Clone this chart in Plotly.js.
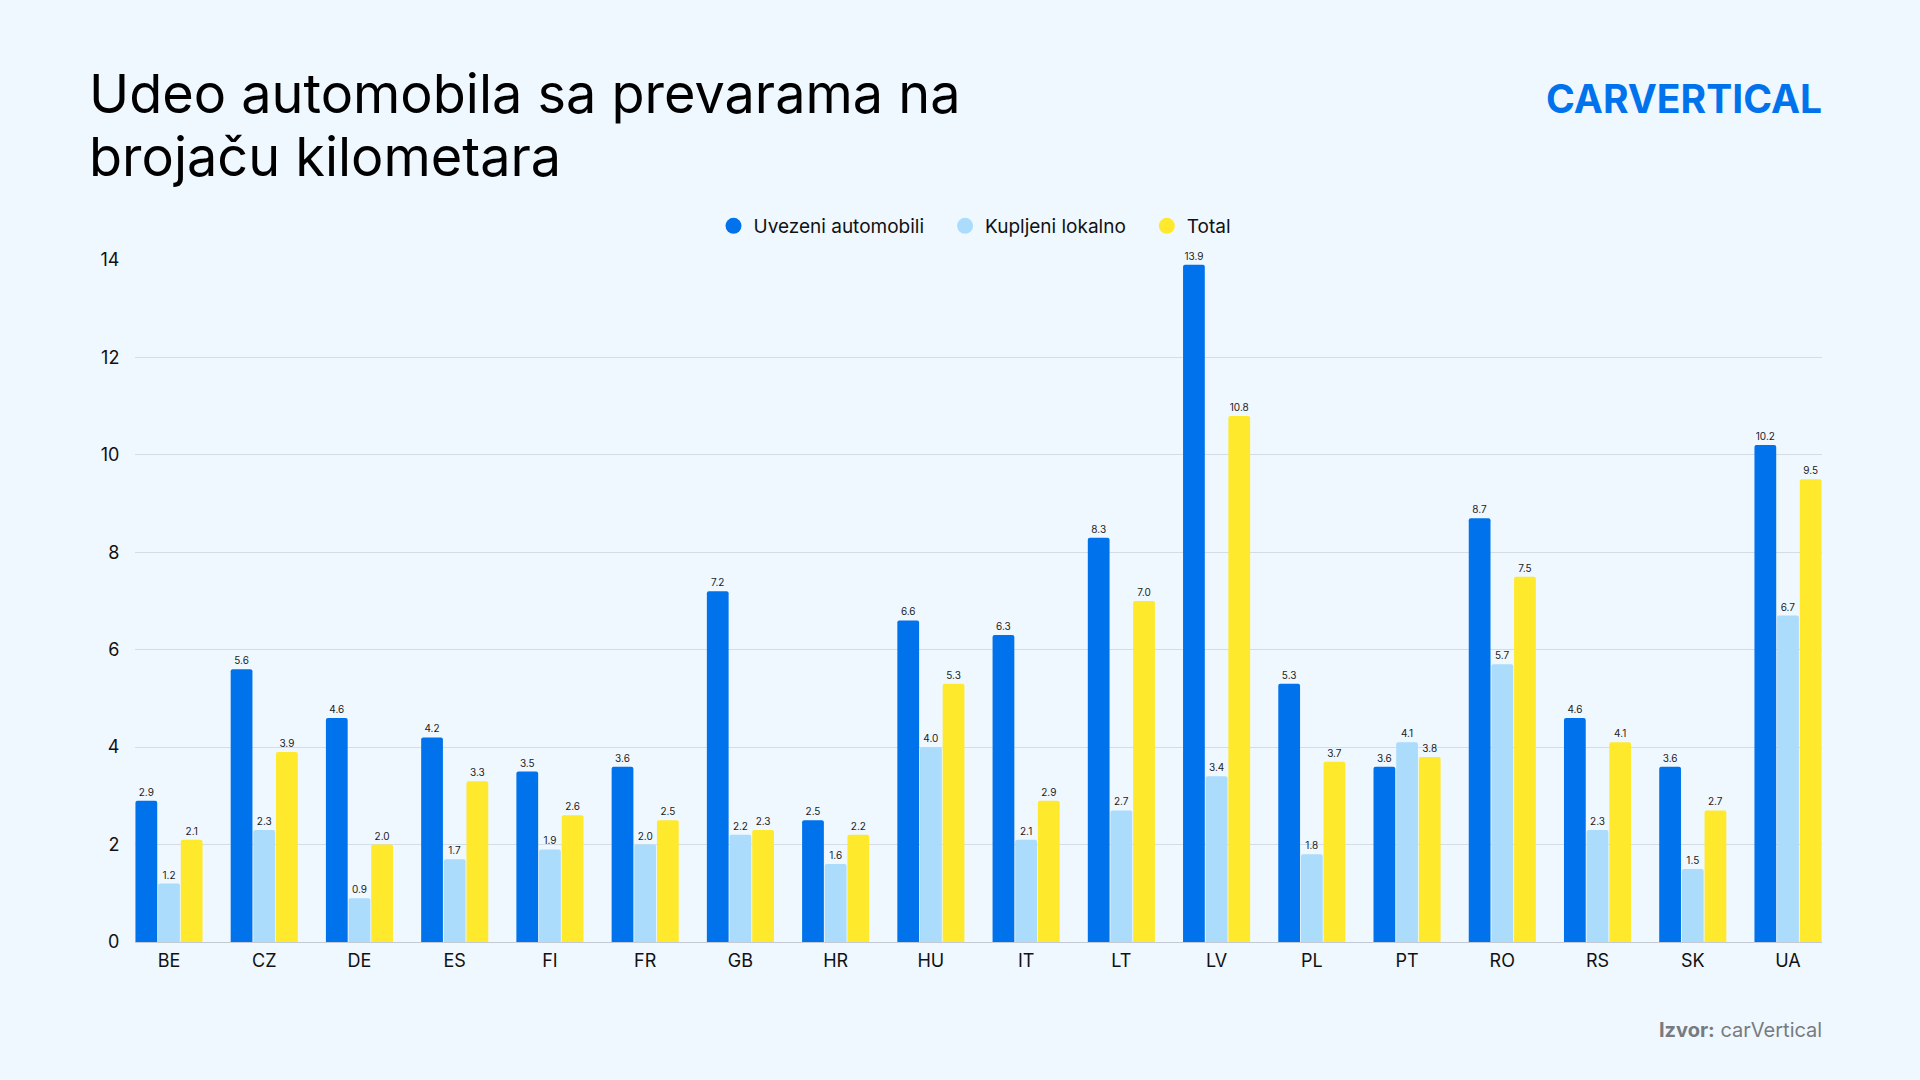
<!DOCTYPE html>
<html>
<head>
<meta charset="utf-8">
<script src="https://cdn.plot.ly/plotly-3.0.1.min.js"></script>
<style>
  html, body { margin: 0; padding: 0; background: #eff7ff; }
  #chart { width: 1920px; height: 1080px; }
</style>
</head>
<body>
<div id="chart"></div>
<script>
const countries = ['BE', 'CZ', 'DE', 'ES', 'FI', 'FR', 'GB', 'HR', 'HU', 'IT', 'LT', 'LV', 'PL', 'PT', 'RO', 'RS', 'SK', 'UA']
const imported = [2.9, 5.6, 4.6, 4.2, 3.5, 3.6, 7.2, 2.5, 6.6, 6.3, 8.3, 13.9, 5.3, 3.6, 8.7, 4.6, 3.6, 10.2]
const local = [1.2, 2.3, 0.9, 1.7, 1.9, 2.0, 2.2, 1.6, 4.0, 2.1, 2.7, 3.4, 1.8, 4.1, 5.7, 2.3, 1.5, 6.7]
const total = [2.1, 3.9, 2.0, 3.3, 2.6, 2.5, 2.3, 2.2, 5.3, 2.9, 7.0, 10.8, 3.7, 3.8, 7.5, 4.1, 2.7, 9.5]
const seriesNames = ['Uvezeni automobili', 'Kupljeni lokalno', 'Total']
const yTicks = [0, 2, 4, 6, 8, 10, 12, 14]

const colors = ['#0073ec', '#abdcfc', '#ffe92c']
const bg = '#eff7ff'
const font = 'Inter, "Open Sans", sans-serif'

// plot area in pixels: left 135, right 1822, top 260, bottom 942
const L = 135, R = 1822, T = 260, B = 942
const px = X => (X - L) / (R - L)
const py = Y => (B - Y) / (B - T)

function barTrace(values, i) {
    return {
        type: 'bar',
        x: countries,
        y: values,
        name: seriesNames[i],
        marker: {color: colors[i]},
        texttemplate: '%{y:.1f}',
        textposition: 'outside',
        textfont: {family: font, size: 10, color: '#1b1b1b'},
        cliponaxis: false,
        showlegend: false,
        hoverinfo: 'x+y+name'
    }
}

// circle markers for the legend only (extra spacing after the first two names)
function legendTrace(i) {
    const pad = i < 2 ? '\u00a0\u00a0\u00a0' : ''
    return {
        type: 'scatter',
        mode: 'markers',
        x: [null],
        y: [null],
        name: seriesNames[i] + pad,
        marker: {color: colors[i], size: 16, symbol: 'circle'},
        showlegend: true
    }
}

const data = [
    barTrace(imported, 0), barTrace(local, 1), barTrace(total, 2),
    legendTrace(0), legendTrace(1), legendTrace(2)
]

const layout = {
    width: 1920,
    height: 1080,
    paper_bgcolor: bg,
    plot_bgcolor: bg,
    font: {family: font, color: '#111'},
    margin: {l: L, r: 1920 - R, t: T, b: 1080 - B, pad: 0},
    barmode: 'group',
    bargap: 0.286,
    bargroupgap: 0.04,
    barcornerradius: 2,
    xaxis: {
        type: 'category',
        range: [-0.357, 17.357],
        showgrid: false,
        showline: false,
        zeroline: false,
        ticks: 'outside',
        ticklen: 2,
        tickcolor: bg,
        tickfont: {family: font, size: 18, color: '#111'},
        fixedrange: true
    },
    yaxis: {
        range: [0, 14],
        tickvals: yTicks,
        showgrid: true,
        gridcolor: '#d4dce6',
        gridwidth: 1,
        zeroline: true,
        zerolinecolor: '#c3cad3',
        zerolinewidth: 1,
        showline: false,
        ticks: 'outside',
        ticklen: 11,
        tickcolor: bg,
        tickfont: {family: font, size: 18, color: '#111'},
        fixedrange: true
    },
    legend: {
        orientation: 'h',
        x: px(975),
        xanchor: 'center',
        y: py(226),
        yanchor: 'middle',
        bgcolor: 'rgba(0,0,0,0)',
        font: {family: font, size: 19, color: '#111'},
        itemwidth: 30,
        traceorder: 'normal'
    },
    annotations: [
        {
            text: 'Udeo automobila sa prevarama na',
            xref: 'paper', yref: 'paper',
            x: px(87), y: py(93),
            xanchor: 'left', yanchor: 'middle',
            showarrow: false,
            font: {family: font, size: 54, color: '#000'}
        },
        {
            text: 'brojaču kilometara',
            xref: 'paper', yref: 'paper',
            x: px(87), y: py(157),
            xanchor: 'left', yanchor: 'middle',
            showarrow: false,
            font: {family: font, size: 54, color: '#000'}
        },
        {
            text: '<b>CARVERTICAL</b>',
            xref: 'paper', yref: 'paper',
            x: px(1824), y: py(98),
            xanchor: 'right', yanchor: 'middle',
            showarrow: false,
            font: {family: font, size: 39, color: '#0073ec', weight: 800}
        },
        {
            text: '<b>Izvor:</b> carVertical',
            xref: 'paper', yref: 'paper',
            x: px(1824), y: py(1030),
            xanchor: 'right', yanchor: 'middle',
            showarrow: false,
            font: {family: font, size: 20, color: '#777b80'}
        }
    ]
}

Plotly.newPlot('chart', data, layout, {displayModeBar: false, staticPlot: true})
</script>
</body>
</html>
